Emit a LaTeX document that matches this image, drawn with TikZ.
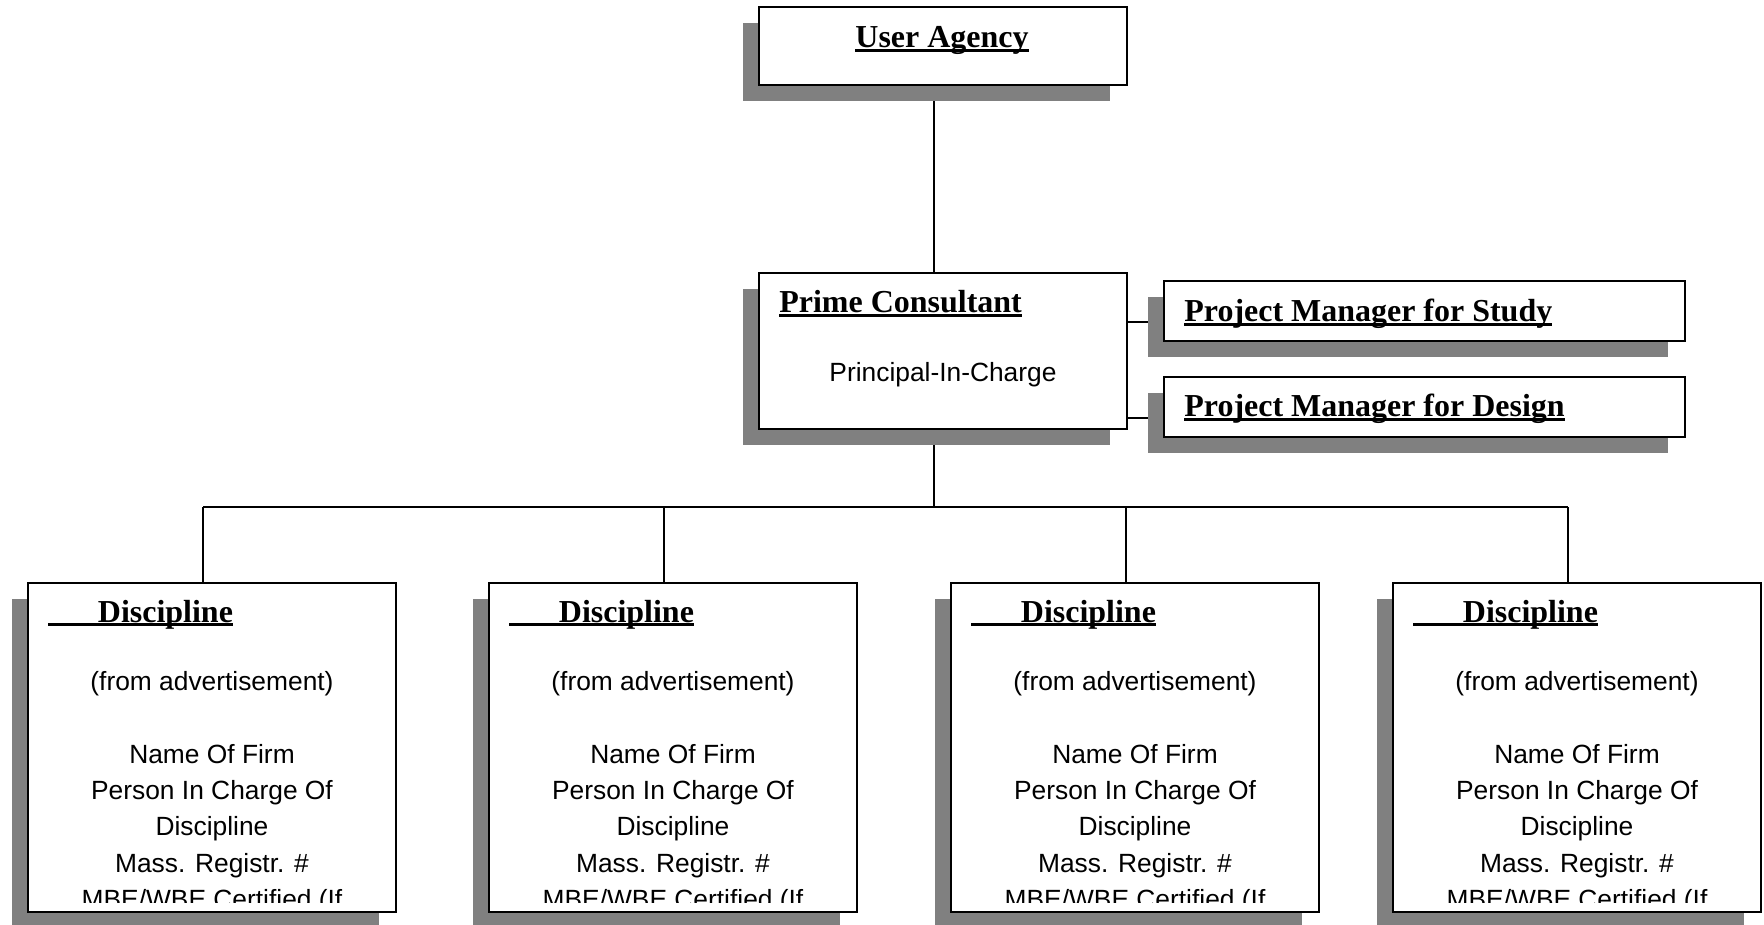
\documentclass[tikz,border=0pt]{standalone}
\usepackage{fontspec}
\setmainfont{Liberation Serif}
\setsansfont{Liberation Sans}
\usetikzlibrary{positioning,shadows,backgrounds}

\definecolor{shadowgray}{RGB}{128,128,128}
% word-processor underline (runs through the descenders)
\newcommand{\wordul}[1]{\setbox0\hbox{#1}\rlap{\rule[-0.13em]{\wd0}{0.085em}}\box0}

\begin{document}
\begin{tikzpicture}[
  x=0.02cm, y=-0.02cm,
  every node/.style={inner sep=0pt},
  box/.style={draw, line width=1pt, fill=white, minimum width=7.36cm,
              drop shadow={shadow xshift=-3.3mm, shadow yshift=-3.2mm,
                           fill=shadowgray, opacity=1}},
  head/.style={font=\fontsize{18.2}{22}\selectfont\bfseries},
  body/.style={font=\sffamily\fontsize{15}{20.7}\selectfont, align=center},
  link/.style={line width=0.8pt},
]
\useasboundingbox (0,0) rectangle (1764,925);

% top of the chart
\node[box, minimum height=1.56cm] (ua) at (943,46) {};
\node[box, minimum height=3.12cm] (prime) at (943,351) {};
\node[box, minimum width=10.42cm, minimum height=1.2cm] (pms) at (1424.5,311) {};
\node[box, minimum width=10.42cm, minimum height=1.2cm] (pmd) at (1424.5,407) {};

\node[head, anchor=base] (uat) at (942,48) {\wordul{User Agency}};
\node[head, anchor=base west] (primet) at (779,313) {\wordul{Prime Consultant}};
\node[body, anchor=base] (pic) at (943,382) {Principal-In-Charge};
\node[head, anchor=base west] (pmst) at (1184,322) {\wordul{Project Manager for Study}};
\node[head, anchor=base west] (pmdt) at (1184,417) {\wordul{Project Manager for Design}};

% disciplines
\foreach \i/\x in {1/212, 2/673, 3/1135, 4/1577} {
  \node[box, minimum height=6.58cm] (d\i) at (\x,747.5) {};
  \node[head, anchor=base west] (d\i h) at (\x-164,622)
    {\wordul{\hspace{1.55em}Discipline}};
  \begin{scope}
    \clip ([yshift=0.2cm]d\i.south west) rectangle (d\i.north east);
    \node[body, anchor=north] (d\i b) at (\x,671)
      {(from advertisement)\\[20.7pt]Name Of Firm\\Person In Charge Of\\
       Discipline\\Mass. Registr. \#\\MBE/WBE Certified (If};
  \end{scope}
}

\coordinate (bus) at (935,507);

% connectors (behind the shadows)
\begin{pgfonlayer}{background}
\draw[link] ([xshift=-1.8mm]ua.south) -- ([xshift=-1.8mm]prime.north);
\draw[link] ([yshift=-2.2mm]pms.west) -- ([yshift=-2.2mm]pms.west -| prime.east);
\draw[link] ([yshift=-2.2mm]pmd.west) -- ([yshift=-2.2mm]pmd.west -| prime.east);
\draw[link] ([xshift=-1.8mm]prime.south) -- ([xshift=-1.8mm]prime.south |- bus);
\draw[link] ([xshift=-1.8mm]d1.north |- bus) -- ([xshift=-1.8mm]d4.north |- bus);
\foreach \i in {1,...,4}
  \draw[link] ([xshift=-1.8mm]d\i.north |- bus) -- ([xshift=-1.8mm]d\i.north);
\end{pgfonlayer}
\end{tikzpicture}
\end{document}
